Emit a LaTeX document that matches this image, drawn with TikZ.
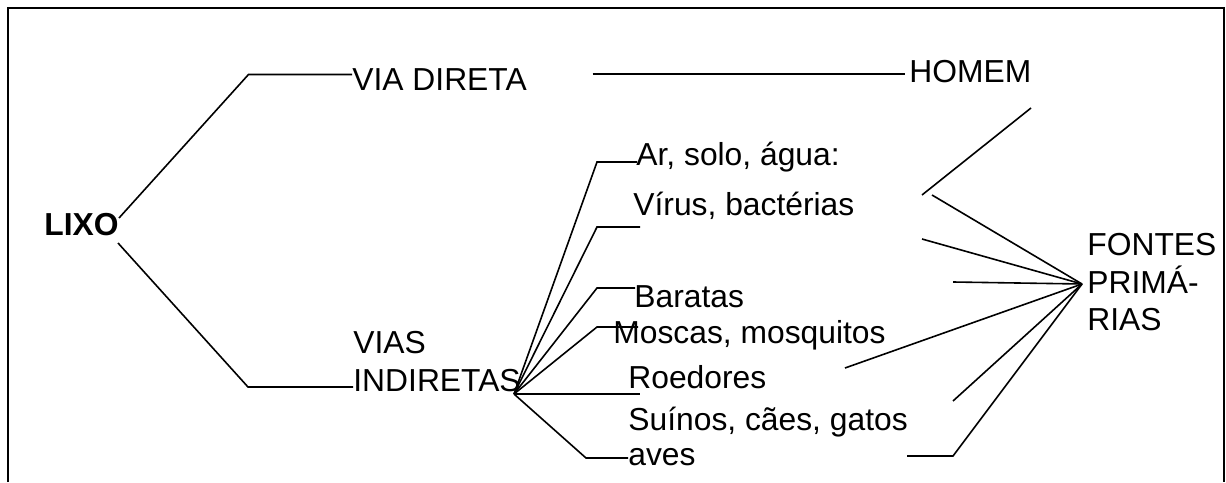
\documentclass[tikz,border=0pt]{standalone}
\usepackage{fontspec}
\setmainfont{Liberation Sans}
\begin{document}
\begin{tikzpicture}[x=0.5pt,y=-0.5pt,
  lbl/.style={anchor=base west, inner sep=0pt, font=\fontsize{15.9}{18.5}\selectfont},
  ln/.style={line width=0.8pt, line join=miter},
  frame/.style={line width=1pt}]
\useasboundingbox (0,0) rectangle (1226,482);
% frame (open at the bottom)
\draw[frame] (8,482) -- (8,7.5) -- (1223.5,7.5) -- (1223.5,482);

% texts
\node[lbl, font=\fontsize{15.9}{18.5}\selectfont\bfseries] (lixo) at (44,235) {LIXO};
\node[lbl] (direta) at (352,90) {VIA DIRETA};
\node[lbl] (homem) at (909,82) {HOMEM};
\node[lbl] (vias) at (353,353) {VIAS};
\node[lbl] (indiretas) at (353,391) {INDIRETAS};
\node[lbl] (ar) at (636,165) {Ar, solo, água:};
\node[lbl] (virus) at (633,215) {Vírus, bactérias};
\node[lbl] (baratas) at (634,307) {Baratas};
\node[lbl] (moscas) at (613,343) {Moscas, mosquitos};
\node[lbl] (roedores) at (628,388) {Roedores};
\node[lbl] (suinos) at (628,430) {Suínos, cães, gatos};
\node[lbl] (aves) at (628,465) {aves};
\node[lbl] (fontes) at (1087,255) {FONTES};
\node[lbl] (prima) at (1087,293) {PRIMÁ-};
\node[lbl] (rias) at (1087,330) {RIAS};

% LIXO branches
\coordinate (lu) at (119,218);
\coordinate (lu1) at (248.5,74.5);
\coordinate (lu2) at (352,74.5);
\coordinate (ld) at (118,243);
\coordinate (ld1) at (248,387);
\coordinate (ld2) at (353,387);
\draw[ln] (lu) -- (lu1) -- (lu2);
\draw[ln] (ld) -- (ld1) -- (ld2);

% via direta -> homem
\coordinate (h1) at (592.5,74);
\coordinate (h2) at (905,74);
\draw[ln] (h1) -- (h2);

% fan from vias indiretas
\coordinate (v) at (514,394);
\coordinate (a1) at (597,162);   \coordinate (a2) at (637,162);
\coordinate (b1) at (597,227);   \coordinate (b2) at (640,227);
\coordinate (c1) at (597,288);   \coordinate (c2) at (635,288);
\coordinate (d1) at (597,327);   \coordinate (d2) at (638,327);
\coordinate (e2) at (640,394);
\coordinate (f1) at (586,458);   \coordinate (f2) at (628,458);
\draw[ln] (v) -- (a1) -- (a2);
\draw[ln] (v) -- (b1) -- (b2);
\draw[ln] (v) -- (c1) -- (c2);
\draw[ln] (v) -- (d1) -- (d2);
\draw[ln] (v) -- (e2);
\draw[ln] (v) -- (f1) -- (f2);

% right side
\coordinate (F) at (1082,284);
\coordinate (r0a) at (922,195);  \coordinate (r0b) at (1031,108);
\coordinate (ra) at (932,195);
\coordinate (rb) at (922,239);
\coordinate (rc) at (953,282);
\coordinate (rd) at (845,368);
\coordinate (re) at (953,401);
\coordinate (rf) at (953,456);
\coordinate (rg) at (907,456);
\draw[ln] (r0a) -- (r0b);
\draw[ln] (ra) -- (F);
\draw[ln] (rb) -- (F);
\draw[ln] (rc) -- (F);
\draw[ln] (rd) -- (F);
\draw[ln] (re) -- (F);
\draw[ln] (rg) -- (rf) -- (F);
\end{tikzpicture}
\end{document}
